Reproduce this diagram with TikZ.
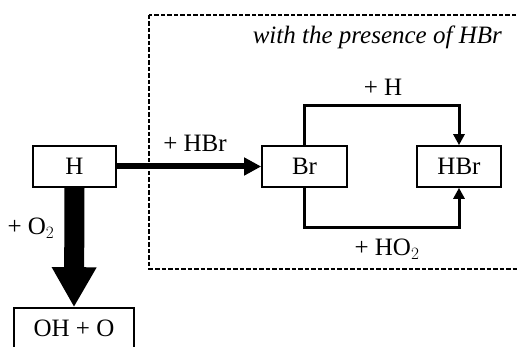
\documentclass[tikz,border=0pt]{standalone}
\usepackage{fontspec}
\setmainfont{Liberation Serif}
\usetikzlibrary{arrows.meta}
\begin{document}
\begin{tikzpicture}[x=1pt,y=-1pt,
  box/.style={draw,line width=1.6pt,minimum width=#1,minimum height=41pt,inner sep=0pt,font=\fontsize{25}{28}\selectfont},
  lbl/.style={font=\fontsize{25}{28}\selectfont,inner sep=0pt},
  loop/.style={line width=3pt,-{Triangle[length=11pt,width=11pt]}}]
\useasboundingbox (0,0) rectangle (517,347);
\clip (0,0) rectangle (517,347);
\fill[white] (0,0) rectangle (517,347);
% dashed region
\draw[line width=1.8pt,dash pattern=on 4.5pt off 2pt] (149,15) rectangle (540,269);
\node[lbl,anchor=east,font=\fontsize{25}{28}\selectfont\itshape] (title) at (502,37) {with the presence of HBr};
% nodes
\node[box=83pt] (H) at (74.5,166.5) {H};
\node[box=120pt] (OH) at (74,328.5) {OH + O};
\node[box=85pt] (Br) at (304.5,166.5) {Br};
\node[box=84pt] (HBr) at (459,166.5) {HBr};
% connectors
\draw[line width=20pt,-{Triangle[length=40pt,width=42pt]}] (H.south) -- (OH.north);
\draw[line width=6pt,-{Triangle[length=17pt,width=17pt]}] (H.east) -- (Br.west);
\coordinate (t1) at (304,106);
\coordinate (t2) at (459,106);
\coordinate (b1) at (304,228);
\coordinate (b2) at (459,228);
\draw[loop] (Br.north -| t1) -- (t1) -- (t2) -- (HBr.north -| t2);
\draw[loop] (Br.south -| b1) -- (b1) -- (b2) -- (HBr.south -| b2);
% labels
\node[lbl] (lH) at (383,87) {+ H};
\node[lbl] (lHO2) at (387,249) {+ HO$_2$};
\node[lbl] (lHBr) at (195,143) {+ HBr};
\node[lbl] (lO2) at (31,228) {+ O$_2$};
\end{tikzpicture}
\end{document}
